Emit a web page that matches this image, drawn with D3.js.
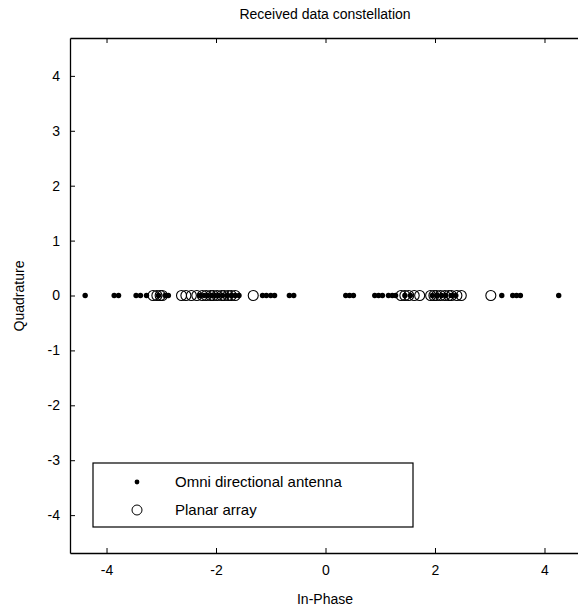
<!DOCTYPE html>
<html>
<head>
<meta charset="utf-8">
<script src="https://cdn.jsdelivr.net/npm/d3@7"></script>
<style>
  body { margin: 0; background: #fff; }
  svg { display: block; }
  text { font-family: "Liberation Sans", Arial, sans-serif; fill: #000; }
</style>
</head>
<body>
<svg id="chart" width="578" height="613"></svg>
<script>
// In-phase values of received symbols (quadrature is 0 for all of them)
var omniI = [-4.39, -3.86, -3.78, -3.46, -3.38, -3.27, -3.05, -2.93, -2.87,
  -2.30, -2.22, -2.15, -2.08, -2.02, -1.95, -1.88, -1.80, -1.72, -1.65, -1.58,
  -1.15, -1.08, -1.00, -0.93, -0.66, -0.58,
  0.37, 0.44, 0.51, 0.90, 0.97, 1.04, 1.15, 1.22, 1.28, 1.45, 1.55,
  1.95, 2.03, 2.12, 2.20, 2.30, 2.38, 3.22, 3.42, 3.49, 3.56, 4.26];
var planarI = [-3.15, -3.08, -3.02, -2.98, -2.63, -2.55, -2.45, -2.35, -2.25,
  -2.18, -2.10, -2.05, -1.98, -1.90, -1.85, -1.78, -1.72, -1.65, -1.32,
  1.38, 1.45, 1.52, 1.62, 1.72, 1.92, 1.98, 2.03, 2.10, 2.18, 2.25, 2.30,
  2.40, 2.48, 3.02];
var xTicks = [-4, -2, 0, 2, 4];
var yTicks = [-4, -3, -2, -1, 0, 1, 2, 3, 4];
var legendLabels = ['Omni directional antenna', 'Planar array'];

var svg = d3.select('#chart');
var mLeft = 70, mTop = 38, mRight = 581, mBottom = 553;

var x = d3.scaleLinear().domain([-4.667, 4.667]).range([mLeft, mRight]);
var y = d3.scaleLinear().domain([-4.69, 4.69]).range([mBottom, mTop]);
var fmt = function(d) { return String(d); };   // plain hyphen minus like MATLAB

var plot = svg.append('g');

// axes, MATLAB style: ticks inward; the right edge of the box falls outside the picture
var ax = plot.append('g').attr('transform', 'translate(0,' + mBottom + ')')
  .call(d3.axisBottom(x).tickValues(xTicks).tickSizeInner(-5).tickSizeOuter(0).tickPadding(12).tickFormat(fmt));
var axTop = plot.append('g').attr('transform', 'translate(0,' + mTop + ')')
  .call(d3.axisTop(x).tickValues(xTicks).tickSizeInner(-5).tickSizeOuter(0).tickFormat(''));
var ay = plot.append('g').attr('transform', 'translate(' + mLeft + ',0)')
  .call(d3.axisLeft(y).tickValues(yTicks).tickSizeInner(-5).tickSizeOuter(0).tickPadding(10).tickFormat(fmt));

[ax, axTop, ay].forEach(function(g) {
  g.select('.domain').attr('stroke', '#000').attr('stroke-width', 1.3);
  g.selectAll('.tick line').attr('stroke', '#000').attr('stroke-width', 1);
  g.selectAll('.tick text').style('font-size', '14px').style('font-family', '"Liberation Sans", Arial, sans-serif');
});

// data
plot.selectAll('.planar').data(planarI).enter().append('circle')
  .attr('class', 'planar')
  .attr('cx', function(d) { return x(d); })
  .attr('cy', y(0))
  .attr('r', 5)
  .attr('fill', 'none')
  .attr('stroke', '#000')
  .attr('stroke-width', 1.1);

plot.selectAll('.omni').data(omniI).enter().append('circle')
  .attr('class', 'omni')
  .attr('cx', function(d) { return x(d); })
  .attr('cy', y(0))
  .attr('r', 2.7)
  .attr('fill', '#000');

// legend
var leg = plot.append('g');
leg.append('rect').attr('x', 93).attr('y', 463).attr('width', 320).attr('height', 64)
  .attr('fill', '#fff').attr('stroke', '#000').attr('stroke-width', 1.2);
var rows = leg.selectAll('.row').data(legendLabels).enter().append('g')
  .attr('transform', function(d, i) { return 'translate(0,' + (482 + i * 28) + ')'; });
rows.append('text').attr('x', 175).attr('y', 5).style('font-size', '15px').text(function(d) { return d; });
rows.filter(function(d, i) { return i === 0; }).append('circle')
  .attr('cx', 137).attr('cy', 0).attr('r', 2.4).attr('fill', '#000');
rows.filter(function(d, i) { return i === 1; }).append('circle')
  .attr('cx', 137).attr('cy', 0).attr('r', 5).attr('fill', 'none').attr('stroke', '#000');

// labels
svg.append('text').attr('x', 325).attr('y', 19).attr('text-anchor', 'middle')
  .style('font-size', '14px').text('Received data constellation');
svg.append('text').attr('x', 325).attr('y', 604).attr('text-anchor', 'middle')
  .style('font-size', '14px').text('In-Phase');
svg.append('text').attr('transform', 'translate(24,296) rotate(-90)').attr('text-anchor', 'middle')
  .style('font-size', '14px').text('Quadrature');
</script>
</body>
</html>
